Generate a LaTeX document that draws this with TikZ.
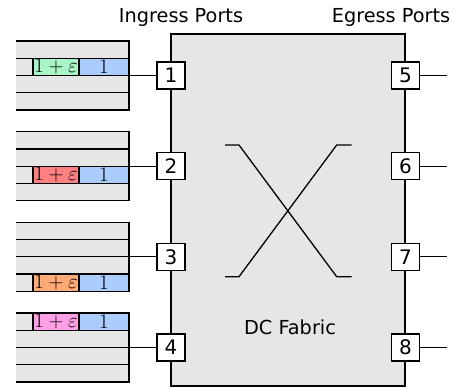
\documentclass[tikz,border=0pt]{standalone}
\usepackage{fontspec}
\setsansfont{DejaVu Sans}
\definecolor{qgray}{HTML}{E6E6E6}
\definecolor{qblue}{HTML}{AACCFF}
\definecolor{qgreen}{HTML}{AAF5C8}
\definecolor{qred}{HTML}{FF8080}
\definecolor{qorange}{HTML}{FFAA77}
\definecolor{qpink}{HTML}{FFA0E6}
\begin{document}
\begin{tikzpicture}[x=1pt,y=-1pt,line width=1.3pt,
  port/.style={draw,fill=white,minimum width=28pt,minimum height=27pt,inner sep=0pt,outer sep=0pt,font=\sffamily\fontsize{20}{20}\selectfont},
  cell/.style={draw,minimum height=17.25pt,inner sep=0pt,outer sep=0pt,font=\fontsize{19.5}{19.5}\selectfont},
  title/.style={font=\sffamily\fontsize{19.3}{21}\selectfont,inner sep=0pt},
  qrow/.style={draw,fill=qgray}]
\useasboundingbox (0,0) rectangle (456,391);
% fabric
\node[draw,fill=qgray,minimum width=234pt,minimum height=352pt,inner sep=0pt,outer sep=0pt,anchor=north west] (fab) at (171,34) {};
\node[title] (lab) at (290,327) {DC Fabric};
\node[title] (ti) at (181,17) {Ingress Ports};
\node[title] (te) at (391,17) {Egress Ports};
% crossing
\draw (225,145) -- (239,145) -- (336.7,276.7) -- (351.7,276.7);
\draw (225,276.7) -- (239,276.7) -- (336.7,145) -- (351.7,145);
% queues and ports
\foreach \k/\hr/\col in {1/1/qgreen,2/2/qred,3/3/qorange,4/0/qpink}{
  \pgfmathsetmacro\ym{75.5+90.67*(\k-1)}
  \foreach \r in {0,1,2,3}{
    \pgfmathsetmacro\t{\ym-34.5+17.25*\r}
    \pgfmathsetmacro\b{\t+17.25}
    \draw[qrow] (16,\t) -- (129,\t) -- (129,\b) -- (16,\b);
  }
  \pgfmathsetmacro\th{\ym-34.5+17.25*\hr}
  \node[cell,fill=\col,minimum width=46pt,anchor=north west] (c\k) at (33,\th) {$1+\varepsilon$};
  \node[cell,fill=qblue,minimum width=50pt,anchor=north east] (d\k) at (129,\th) {$1$};
  \coordinate (q\k) at (129,\ym);
  \node[port] (p\k) at (171,\ym) {\k};
  \draw (q\k) -- (p\k);
  \pgfmathtruncatemacro\ek{\k+4}
  \node[port] (e\k) at (405.5,\ym) {\ek};
  \coordinate (o\k) at (446.5,\ym);
  \draw (e\k) -- (o\k);
}
\end{tikzpicture}
\end{document}
